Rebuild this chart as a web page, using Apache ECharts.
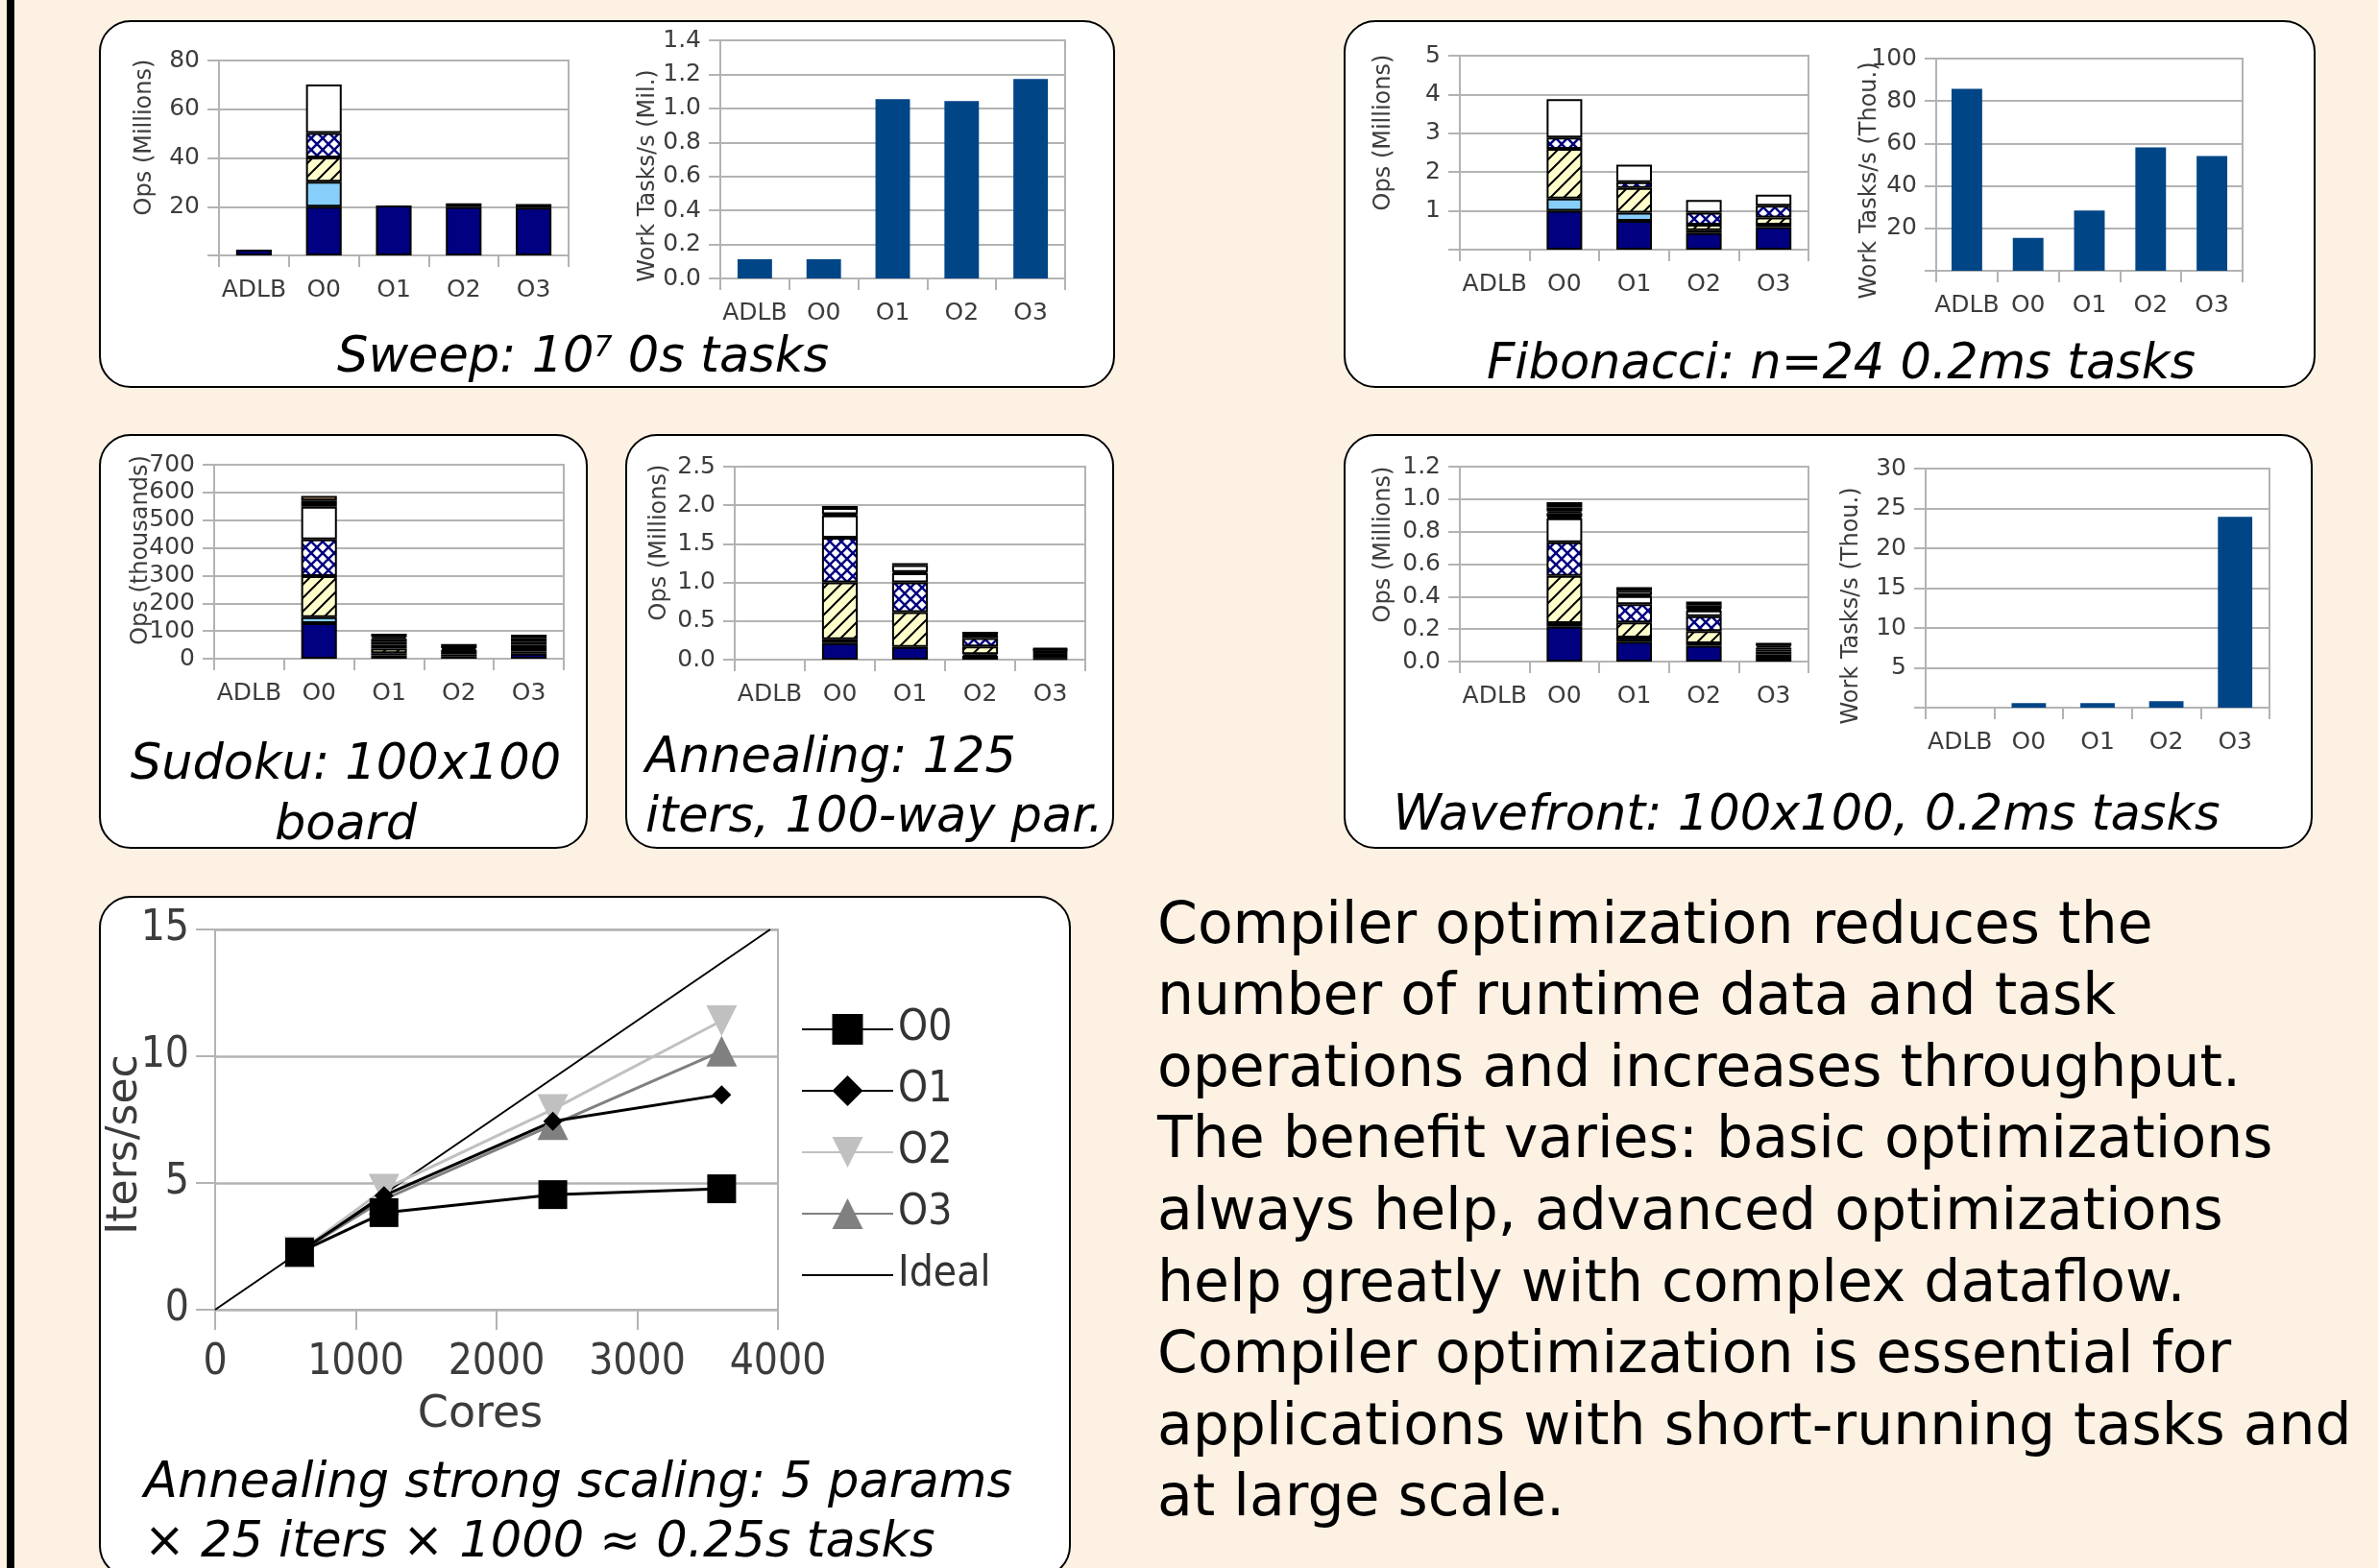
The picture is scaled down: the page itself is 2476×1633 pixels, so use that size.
<!DOCTYPE html>
<html>
<head>
<meta charset="utf-8">
<script src="https://cdn.jsdelivr.net/npm/echarts@6/dist/echarts.min.js"></script>
<style>
html,body{margin:0;padding:0;background:#fdf1e3;}
#main{width:2476px;height:1633px;}
</style>
</head>
<body>
<div id="main"></div>
<script>
// categories shared by all bar charts
const cats = ['ADLB', 'O0', 'O1', 'O2', 'O3'];

// stacked runtime op counts, one row per segment kind (bottom to top)
const segKinds = ['navy', 'dark', 'lblue', 'yellow', 'cross', 'white', 'black', 'white2', 'black2', 'white3', 'black3', 'peach'];

// Sweep, Ops (Millions)
const sweepOps = [
  [2.4, 20, 20.5, 19.9, 19.6],
  [0, 0, 0, 0, 0],
  [0, 10.2, 0, 0, 0],
  [0, 10, 0, 0, 0],
  [0, 10, 0, 0, 0],
  [0, 19.9, 0, 0, 0],
  [0, 0, 0, 1.5, 1.5],
  [0, 0, 0, 0, 0],
  [0, 0, 0, 0, 0],
  [0, 0, 0, 0, 0],
  [0, 0, 0, 0, 0],
  [0, 0, 0, 0, 0]
];
// Fibonacci, Ops (Millions)
const fibOps = [
  [0, 1.0, 0.74, 0.43, 0.58],
  [0, 0, 0, 0.07, 0.065],
  [0, 0.32, 0.21, 0, 0],
  [0, 1.28, 0.64, 0.145, 0.185],
  [0, 0.29, 0.15, 0.305, 0.30],
  [0, 0.99, 0.45, 0.33, 0.29],
  [0, 0, 0, 0, 0],
  [0, 0, 0, 0, 0],
  [0, 0, 0, 0, 0],
  [0, 0, 0, 0, 0],
  [0, 0, 0, 0, 0],
  [0, 0, 0, 0, 0]
];
// Sudoku, Ops (thousands)
const sudokuOps = [
  [0, 128, 12, 8, 18],
  [0, 0, 8, 8, 8],
  [0, 22, 0, 0, 0],
  [0, 148, 16, 8, 12],
  [0, 133, 14, 8, 12],
  [0, 117, 10, 6, 10],
  [0, 23, 12, 15, 15],
  [0, 0, 6, 0, 0],
  [0, 0, 12, 0, 12],
  [0, 0, 0, 0, 0],
  [0, 0, 0, 0, 0],
  [0, 16, 0, 0, 0]
];
// Annealing, Ops (Millions)
const annealOps = [
  [0, 0.215, 0.165, 0.05, 0.02],
  [0, 0.05, 0, 0.02, 0.02],
  [0, 0, 0, 0, 0],
  [0, 0.735, 0.45, 0.1, 0.02],
  [0, 0.58, 0.385, 0.11, 0.02],
  [0, 0.29, 0.12, 0.03, 0.02],
  [0, 0.015, 0.015, 0.01, 0.02],
  [0, 0.08, 0.09, 0.01, 0.013],
  [0, 0.025, 0.025, 0.03, 0.02],
  [0, 0, 0, 0, 0],
  [0, 0, 0, 0, 0],
  [0, 0, 0, 0, 0]
];
// Wavefront, Ops (Millions)
const waveOps = [
  [0, 0.215, 0.122, 0.097, 0.012],
  [0, 0, 0.026, 0.015, 0.012],
  [0, 0.022, 0, 0, 0],
  [0, 0.29, 0.093, 0.075, 0.02],
  [0, 0.207, 0.112, 0.093, 0.018],
  [0, 0.148, 0.051, 0.035, 0.012],
  [0, 0.009, 0.006, 0.008, 0.012],
  [0, 0.024, 0.026, 0.025, 0.01],
  [0, 0.01, 0.022, 0.021, 0.02],
  [0, 0.024, 0, 0, 0],
  [0, 0.033, 0, 0, 0],
  [0, 0, 0, 0, 0]
];

// throughput
const sweepRate = [0.113, 0.113, 1.054, 1.043, 1.173];   // Mil. tasks/s
const fibRate = [85.7, 15.5, 28.4, 58.2, 54.1];          // Thou. tasks/s
const waveRate = [0, 0.56, 0.56, 0.8, 23.96];            // Thou. tasks/s

// strong scaling
const cores = [600, 1200, 2400, 3600];
const itersO0 = [2.27, 3.83, 4.54, 4.77];
const itersO1 = [2.28, 4.5, 7.43, 8.48];
const itersO2 = [2.28, 4.75, 7.9, 11.4];
const itersO3 = [2.28, 4.35, 7.3, 10.2];
const idealCores = [0, 3945];
const idealIters = [0, 15];

const FONT = 'DejaVu Sans';
const NARROW = '"Liberation Sans Narrow", "DejaVu Sans Condensed", sans-serif';
const GRAY = '#b3b3b3';
const LABEL = '#3c3c3c';

// hatch fills
function hatch() {
  let c = document.createElement('canvas');
  c.width = c.height = 14;
  let g = c.getContext('2d');
  g.fillStyle = '#ffffcc';
  g.fillRect(0, 0, 14, 14);
  g.strokeStyle = '#000';
  g.lineWidth = 2;
  g.beginPath();
  g.moveTo(0, 14); g.lineTo(14, 0);
  g.moveTo(-7, 7); g.lineTo(7, -7);
  g.moveTo(7, 21); g.lineTo(21, 7);
  g.stroke();
  return c;
}
function crossHatch() {
  let c = document.createElement('canvas');
  c.width = c.height = 12;
  let g = c.getContext('2d');
  g.fillStyle = '#ffffff';
  g.fillRect(0, 0, 12, 12);
  g.strokeStyle = '#000080';
  g.lineWidth = 2.5;
  g.beginPath();
  g.moveTo(0, 0); g.lineTo(12, 12);
  g.moveTo(0, 12); g.lineTo(12, 0);
  g.stroke();
  return c;
}
const segColor = {
  navy: '#000080', dark: '#1e3a4c', lblue: '#87cefa',
  yellow: {image: hatch(), repeat: 'repeat'},
  cross: {image: crossHatch(), repeat: 'repeat'},
  white: '#ffffff', black: '#000000', white2: '#ffffff', black2: '#000000',
  white3: '#ffffff', black3: '#000000', peach: '#fac58f'
};

// grid boxes: left, top, width, height
const grids = [
  [228, 63, 364, 203],    // sweep ops
  [750, 42, 359, 248],    // sweep rate
  [1520, 58, 363, 202],   // fib ops
  [2016, 61, 319, 221],   // fib rate
  [223, 484, 364, 202],   // sudoku
  [765, 486, 365, 201],   // annealing
  [1520, 486, 363, 203],  // wave ops
  [2005, 488, 358, 249],  // wave rate
  [224, 968, 586, 396]    // scaling
];

const noZero = v => v === 0 ? '' : String(v);
const oneDec = v => v.toFixed(1);
const plain = v => String(v);

function catAxis(gi) {
  return {
    type: 'category', gridIndex: gi, data: cats,
    axisLine: {lineStyle: {color: GRAY, width: 2}},
    axisTick: {show: true, interval: 0, length: 12, lineStyle: {color: GRAY, width: 2}},
    axisLabel: {interval: 0, color: LABEL, fontSize: 25, fontFamily: FONT, margin: 24}
  };
}
function valAxis(gi, max, interval, fmt) {
  return {
    type: 'value', gridIndex: gi, min: 0, max: max, interval: interval,
    axisLine: {show: true, lineStyle: {color: GRAY, width: 2}},
    axisTick: {show: true, length: 12, lineStyle: {color: GRAY, width: 2}},
    splitLine: {lineStyle: {color: GRAY, width: 2}},
    axisLabel: {color: LABEL, fontSize: 25, fontFamily: FONT, margin: 20, formatter: fmt}
  };
}
function stackSeries(rows, gi) {
  return segKinds.map((k, i) => ({
    type: 'bar', xAxisIndex: gi, yAxisIndex: gi, stack: 's' + gi, barWidth: '51%',
    silent: true,
    data: rows[i].map(v => v === 0 ? null : v),
    itemStyle: {color: segColor[k], borderColor: '#000', borderWidth: 2}
  }));
}
function rateSeries(vals, gi) {
  return {
    type: 'bar', xAxisIndex: gi, yAxisIndex: gi, barWidth: '50%', silent: true,
    data: vals, itemStyle: {color: '#004586'}
  };
}

let xAxes = [], yAxes = [];
for (let i = 0; i < 8; i++) xAxes.push(catAxis(i));
yAxes.push(valAxis(0, 80, 20, noZero));
yAxes.push(valAxis(1, 1.4, 0.2, oneDec));
yAxes.push(valAxis(2, 5, 1, noZero));
yAxes.push(valAxis(3, 100, 20, noZero));
yAxes.push(valAxis(4, 700, 100, plain));
yAxes.push(valAxis(5, 2.5, 0.5, oneDec));
yAxes.push(valAxis(6, 1.2, 0.2, oneDec));
yAxes.push(valAxis(7, 30, 5, noZero));

// scaling axes
xAxes.push({
  type: 'value', gridIndex: 8, min: 0, max: 4000, interval: 1000,
  axisLine: {lineStyle: {color: GRAY, width: 2}},
  axisTick: {show: true, length: 21, lineStyle: {color: GRAY, width: 2}},
  splitLine: {show: false},
  axisLabel: {color: LABEL, fontSize: 44, fontFamily: NARROW, margin: 34, formatter: plain}
});
yAxes.push({
  type: 'value', gridIndex: 8, min: 0, max: 15, interval: 5,
  axisLine: {show: true, lineStyle: {color: GRAY, width: 2}},
  axisTick: {show: true, length: 20, lineStyle: {color: GRAY, width: 2}},
  splitLine: {lineStyle: {color: GRAY, width: 2.5}},
  axisLabel: {color: LABEL, fontSize: 44, fontFamily: NARROW, margin: 27, formatter: plain}
});

let series = [];
series = series.concat(stackSeries(sweepOps, 0));
series.push(rateSeries(sweepRate, 1));
series = series.concat(stackSeries(fibOps, 2));
series.push(rateSeries(fibRate, 3));
series = series.concat(stackSeries(sudokuOps, 4));
series = series.concat(stackSeries(annealOps, 5));
series = series.concat(stackSeries(waveOps, 6));
series.push(rateSeries(waveRate, 7));

function pairs(xs, ys) { return xs.map((x, i) => [x, ys[i]]); }
function lineSeries(name, ys, color, symbol, size, rot) {
  return {
    name: name, type: 'line', xAxisIndex: 8, yAxisIndex: 8, silent: true,
    data: pairs(cores, ys), symbol: symbol, symbolSize: size, symbolRotate: rot || 0,
    lineStyle: {color: color, width: 3}, itemStyle: {color: color}
  };
}
series.push({
  name: 'Ideal', type: 'line', xAxisIndex: 8, yAxisIndex: 8, silent: true,
  data: pairs(idealCores, idealIters), symbol: 'none',
  lineStyle: {color: '#000', width: 2}, itemStyle: {color: '#000'}
});
series.push(lineSeries('O3', itersO3, '#808080', 'triangle', 32));
series.push(lineSeries('O2', itersO2, '#c0c0c0', 'triangle', 32, 180));
series.push(lineSeries('O1', itersO1, '#000000', 'diamond', 20));
series.push(lineSeries('O0', itersO0, '#000000', 'rect', 30));

// decoration: boxes, titles, axis names, text
const panels = [
  [104, 22, 1056, 381],
  [1400, 22, 1010, 381],
  [104, 453, 507, 430],
  [652, 453, 507, 430],
  [1400, 453, 1007, 430],
  [104, 934, 1010, 708]
];
let graphic = [{type: 'rect', z: -10, shape: {x: 7, y: 0, width: 8, height: 1633}, style: {fill: '#000'}}];
panels.forEach(p => graphic.push({
  type: 'rect', z: -10,
  shape: {x: p[0], y: p[1], width: p[2], height: p[3], r: 32},
  style: {fill: '#ffffff', stroke: '#000', lineWidth: 2}
}));

function txt(s, x, y, size, align, italic) {
  return {
    type: 'text', z: 50, x: x, y: y,
    style: {
      text: s, x: 0, y: 0, fill: '#000', fontSize: size, fontFamily: FONT,
      fontStyle: italic ? 'italic' : 'normal',
      align: align, verticalAlign: 'middle', textAlign: align, textVerticalAlign: 'middle'
    }
  };
}
function vname(s, x, y) {
  let t = txt(s, x, y, 24, 'center', false);
  t.rotation = Math.PI / 2;
  t.style.fill = LABEL;
  return t;
}
graphic.push({
  type: 'text', z: 50, x: 607, y: 374,
  style: {
    text: '{a|Sweep: 10}{s|7}{a| 0s tasks}', x: 0, y: 0,
    align: 'center', verticalAlign: 'middle', textAlign: 'center', textVerticalAlign: 'middle',
    fill: '#000', fontSize: 51, fontFamily: FONT, fontStyle: 'italic',
    rich: {
      a: {fontSize: 51, fontFamily: FONT, fontStyle: 'italic', fill: '#000', color: '#000'},
      s: {fontSize: 30, fontFamily: FONT, fontStyle: 'italic', fill: '#000', color: '#000', verticalAlign: 'top'}
    }
  }
});
graphic.push(txt('Fibonacci: n=24 0.2ms tasks', 1917, 381, 51, 'center', true));
graphic.push(txt('Sudoku: 100x100', 360, 798, 51, 'center', true));
graphic.push(txt('board', 360, 861, 51, 'center', true));
graphic.push(txt('Annealing: 125', 672, 791, 51, 'left', true));
graphic.push(txt('iters, 100-way par.', 672, 853, 51, 'left', true));
graphic.push(txt('Wavefront: 100x100, 0.2ms tasks', 1881, 851, 51, 'center', true));
graphic.push(txt('Annealing strong scaling: 5 params', 150, 1546, 51, 'left', true));
graphic.push(txt('\u00d7 25 iters \u00d7 1000 \u2248 0.25s tasks', 150, 1608, 51, 'left', true));

graphic.push(vname('Ops (Millions)', 151, 143));
graphic.push(vname('Work Tasks/s (Mil.)', 675, 183));
graphic.push(vname('Ops (Millions)', 1441, 138));
graphic.push(vname('Work Tasks/s (Thou.)', 1947, 188));
graphic.push(vname('Ops (thousands)', 147, 573));
graphic.push(vname('Ops (Millions)', 687, 565));
graphic.push(vname('Ops (Millions)', 1441, 567));
graphic.push(vname('Work Tasks/s (Thou.)', 1928, 631));
let iname = txt('Iters/sec', 131, 1192, 44, 'center', false);
iname.rotation = Math.PI / 2;
iname.style.fill = LABEL;
graphic.push(iname);
let cname = txt('Cores', 500, 1474, 46, 'center', false);
cname.style.fill = LABEL;
graphic.push(cname);

const para = [
  'Compiler optimization reduces the',
  'number of runtime data and task',
  'operations and increases throughput.',
  'The benefit varies: basic optimizations',
  'always help, advanced optimizations',
  'help greatly with complex dataflow.',
  'Compiler optimization is essential for',
  'applications with short-running tasks and',
  'at large scale.'
];
para.forEach((l, i) => graphic.push(txt(l, 1205, 966 + i * 74.6, 60, 'left', false)));

var chart = echarts.init(document.getElementById('main'), null, {renderer: 'canvas'});
chart.setOption({
  animation: false,
  backgroundColor: '#fdf1e3',
  textStyle: {fontFamily: FONT},
  grid: grids.map(g => ({
    left: g[0], top: g[1], width: g[2], height: g[3],
    show: true, borderColor: GRAY, borderWidth: 2, backgroundColor: 'transparent'
  })),
  xAxis: xAxes,
  yAxis: yAxes,
  legend: {
    data: ['O0', 'O1', 'O2', 'O3', {name: 'Ideal', itemStyle: {opacity: 0}}],
    orient: 'vertical', left: 829, top: 1043,
    itemWidth: 95, itemHeight: 40, itemGap: 16, selectedMode: false,
    textStyle: {fontSize: 44, lineHeight: 48, color: '#333', fontFamily: NARROW}
  },
  series: series,
  graphic: graphic
});
</script>
</body>
</html>
